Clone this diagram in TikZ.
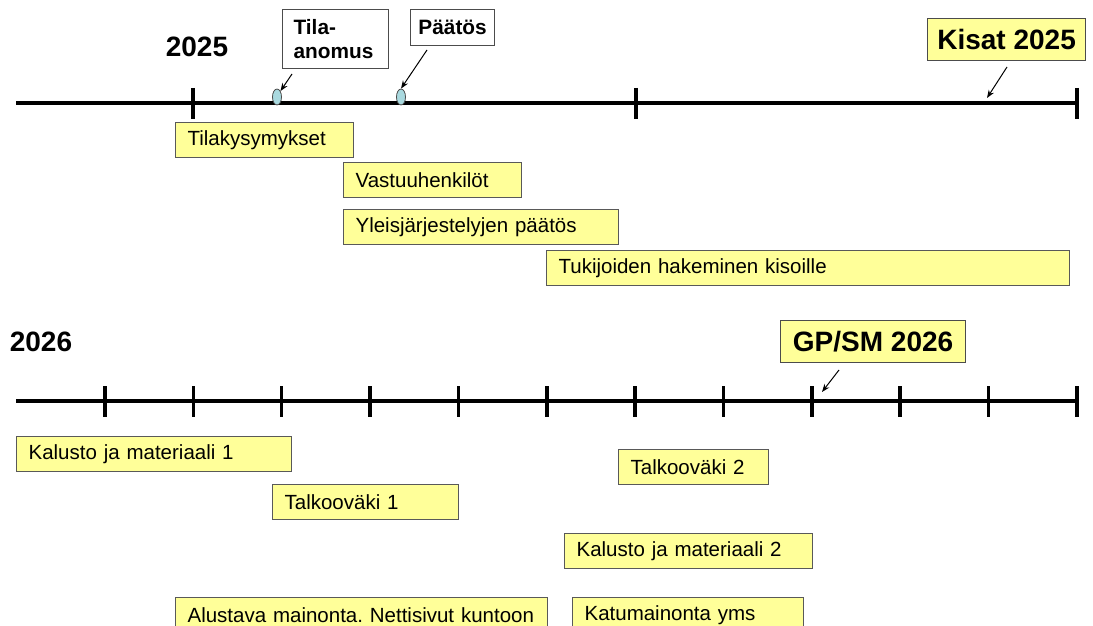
\documentclass[tikz,border=0pt]{standalone}
\usepackage{fontspec}
\setmainfont{Liberation Sans}
\usetikzlibrary{arrows.meta}
\usetikzlibrary{shapes.geometric}
\definecolor{taskyellow}{HTML}{FFFF99}
\definecolor{ovalblue}{HTML}{A9D9DF}
\frenchspacing

\tikzset{
 axis/.style={line width=4pt},
 tick/.style={line width=3.5pt},
 task/.style={draw=black!65, fill=taskyellow, line width=1.2pt, anchor=north west,
   minimum height=35pt, inner xsep=12pt, align=left, font=\fontsize{20.5}{24}\selectfont},
 note/.style={draw=black!70, fill=white, line width=1.2pt, anchor=north west,
   inner xsep=11pt, align=left, font=\bfseries\fontsize{20.8}{24.5}\selectfont},
 event/.style={draw=black!70, fill=taskyellow, line width=1.2pt, anchor=north west,
   font=\bfseries\fontsize{28}{32}\selectfont},
 year/.style={font=\bfseries\fontsize{28}{32}\selectfont},
 oval/.style={ellipse, draw=black!70, fill=ovalblue, line width=0.8pt, inner sep=0pt,
   minimum width=9pt, minimum height=16pt},
 pointer/.style={line width=1pt, -{Stealth[length=8pt,width=6pt]}}
}

\begin{document}
\begin{tikzpicture}[x=1pt,y=-1pt]
\useasboundingbox (0,0) rectangle (1093,626);
\clip (0,0) rectangle (1093,626);

% vuosi 2025
\node[year] (year25) at (197,47) {2025};
\draw[axis] (16,103) -- (1078,103);
\foreach \x in {193,636,1077}
 \draw[tick] (\x,88) -- (\x,119);

\node[oval] (tilaDot) at (277,97) {};
\node[oval] (paatosDot) at (401,97) {};

\node[note, text width=84pt, minimum height=59pt] (tila) at (282,9) {Tila-\\anomus};
\node[note, minimum width=84pt, minimum height=36pt, inner xsep=2pt, align=center] (paatos) at (410,9) {Päätös};
\node[event, minimum width=158pt, minimum height=42pt] (kisat) at (927,18) {Kisat 2025};

\coordinate (tilaFrom) at (292,74);
\coordinate (paatosFrom) at (427,50);
\coordinate (kisatFrom) at (1007,67);
\coordinate (kisatTo) at (987,98);
\draw[pointer] (tilaFrom) -- (tilaDot.north east);
\draw[pointer] (paatosFrom) -- (paatosDot.north);
\draw[pointer] (kisatFrom) -- (kisatTo);

\foreach \nm/\x/\y/\w/\txt in {
  tilakys/175/122/178/Tilakysymykset,
  vastuu/343/162/178/Vastuuhenkilöt,
  yleis/343/209/275/Yleisjärjestelyjen päätös,
  tuki/546/250/523/Tukijoiden hakeminen kisoille}
 \node[task, text width=\w pt-24pt] (\nm) at (\x,\y) {\mbox{\txt}};

% vuosi 2026
\node[year] (year26) at (41,342) {2026};
\draw[axis] (16,401) -- (1078,401);
\foreach \i in {0,...,11}
 \draw[tick] ({105+88.36*\i},386) -- ({105+88.36*\i},417);

\node[event, minimum width=185pt, minimum height=42pt] (gpsm) at (780,320) {GP/SM 2026};
\coordinate (gpsmFrom) at (839,370);
\coordinate (gpsmTo) at (822,392);
\draw[pointer] (gpsmFrom) -- (gpsmTo);

\foreach \nm/\x/\y/\w/\txt in {
  kalusto1/16/436/275/Kalusto ja materiaali 1,
  talkoo1/272/484/186/Talkooväki 1,
  talkoo2/618/449/150/Talkooväki 2,
  kalusto2/564/533/248/Kalusto ja materiaali 2,
  mainonta/175/597/372/Alustava mainonta. Nettisivut kuntoon,
  katu/572/597/231/Katumainonta yms}
 \node[task, text width=\w pt-24pt] (\nm) at (\x,\y) {\mbox{\txt}};
\end{tikzpicture}
\end{document}
